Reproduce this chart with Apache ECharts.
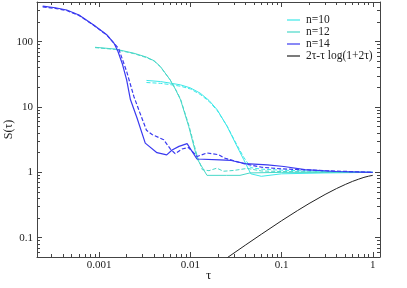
<!DOCTYPE html>
<html><head><meta charset="utf-8">
<script src="https://cdn.jsdelivr.net/npm/echarts@6/dist/echarts.min.js"></script>
<style>html,body{margin:0;padding:0;background:#fff}#c{width:407px;height:288px}</style>
</head><body><div id="c"></div>
<script>
// ---- data (tau, S) ----
const xTickLabels = ['0.001', '0.01', '0.1', '1'];
const yTickLabels = ['0.1', '1', '10', '100'];
const legendNames = ['n=10', 'n=12', 'n=14', '2\u03c4-\u03c4 log(1+2\u03c4)'];

const n10Solid = [[0.0033,25.5],[0.0047,24.5],[0.006,23.2],[0.0078,21.8],[0.01,19.6],[0.0128,16.3],[0.016,12.6],[0.0197,9.06],[0.0253,5.04],[0.0325,2.49],[0.0385,1.56],[0.046,0.95],[0.06,0.87],[0.1,0.95],[0.3,0.98],[1,1.0]];
const n10Dashed = [[0.0033,23.7],[0.0047,23.0],[0.006,22.0],[0.0078,20.8],[0.01,18.9],[0.0128,15.6],[0.016,12.2],[0.0197,8.8],[0.0253,5.1],[0.0325,2.6],[0.0385,1.7],[0.046,1.18],[0.06,1.12],[0.1,1.08],[0.3,1.03],[1,1.0]];
const n12Solid = [[0.0009,82],[0.0015,77],[0.0024,66.5],[0.0033,58],[0.004,51],[0.0047,41.5],[0.006,26],[0.0068,19],[0.0078,12.9],[0.0096,5.0],[0.0119,1.6],[0.0152,0.9],[0.025,0.9],[0.035,0.9],[0.045,0.98],[0.1,1.0],[1,1.0]];
const n12Dashed = [[0.0009,81],[0.0015,76],[0.0024,65.5],[0.0033,57],[0.004,50.5],[0.0047,41],[0.006,26],[0.0068,19.3],[0.0078,13.2],[0.0096,5.3],[0.0119,1.75],[0.0135,1.1],[0.016,1.06],[0.0195,1.16],[0.023,1.04],[0.03,1.07],[0.042,1.15],[0.06,1.05],[0.1,1.03],[1,1.0]];
const n14Solid = [[0.00024,350],[0.00033,330],[0.00044,305],[0.0006,255],[0.00087,180],[0.00122,126],[0.00145,95],[0.0016,72],[0.0018,45],[0.002,26],[0.0022,13],[0.0026,6.8],[0.0032,2.8],[0.0043,2.0],[0.0055,1.85],[0.0063,2.2],[0.0075,2.5],[0.0092,2.75],[0.0118,1.6],[0.021,1.55],[0.028,1.52],[0.04,1.36],[0.07,1.3],[0.106,1.23],[0.18,1.1],[0.4,1.03],[1,1.0]];
const n14Dashed = [[0.00024,340],[0.00033,322],[0.00044,300],[0.0006,252],[0.00087,178],[0.00122,125],[0.00145,95],[0.00163,79],[0.002,35],[0.0024,14.5],[0.0028,8.1],[0.0033,4.4],[0.0038,3.8],[0.0051,3.15],[0.006,2.3],[0.0068,1.93],[0.0081,2.28],[0.0095,2.4],[0.0119,1.75],[0.0152,1.98],[0.0205,1.86],[0.0234,1.66],[0.0385,1.36],[0.06,1.2],[0.1,1.13],[0.3,1.06],[1,1.0]];
const refCurve = [[0.025,0.0488],[0.04,0.0769],[0.06,0.113],[0.1,0.182],[0.15,0.261],[0.2,0.333],[0.3,0.459],[0.4,0.565],[0.5,0.653],[0.6,0.728],[0.7,0.787],[0.8,0.838],[0.9,0.874],[1,0.901]];

const X_MIN = 0.000208, X_MAX = 1.2, Y_MIN = 0.0507, Y_MAX = 404;
const FONT = 'Liberation Serif';
const AX = '#444';
const C10 = '#3ce8e8', C12 = '#48d8c8', C14 = '#3a3af0';

function fmt(labels) {
  return function (v) {
    for (const l of labels) { if (Math.abs(Math.log10(v) - Math.log10(Number(l))) < 1e-6) return l; }
    return '';
  };
}
function axis(kind, pos, showLabel, labels) {
  return {
    type: 'log', logBase: 10, position: pos,
    min: kind === 'x' ? X_MIN : Y_MIN, max: kind === 'x' ? X_MAX : Y_MAX,
    axisLine: {show: true, onZero: false, lineStyle: {color: AX, width: 1}},
    axisTick: {show: true, inside: true, length: 5, lineStyle: {color: AX, width: 1}},
    minorTick: {show: true, splitNumber: 9, length: 3, lineStyle: {color: AX, width: 1}},
    splitLine: {show: false}, minorSplitLine: {show: false},
    axisLabel: {show: showLabel, formatter: fmt(labels), margin: kind === 'x' ? 3 : 4,
      fontFamily: FONT, fontSize: 11, color: '#222', showMinLabel: false, showMaxLabel: false}
  };
}
const xa = axis('x', 'bottom', true, xTickLabels);
xa.name = '\u03c4'; xa.nameLocation = 'middle'; xa.nameGap = 12; xa.nameMoveOverlap = false;
xa.nameTextStyle = {fontFamily: FONT, fontSize: 13, color: '#222'};
const ya = axis('y', 'left', true, yTickLabels);
ya.name = 'S(\u03c4)'; ya.nameLocation = 'middle'; ya.nameGap = 22; ya.nameMoveOverlap = false;
ya.nameTextStyle = {fontFamily: FONT, fontSize: 12, color: '#222'};

function line(name, data, color, dashed, width) {
  return {type: 'line', name: name, data: data, xAxisIndex: 0, yAxisIndex: 0,
    symbol: 'none', showSymbol: false, smooth: false, animation: false,
    lineStyle: {color: color, width: width, type: dashed ? [4, 2] : 'solid'},
    itemStyle: {color: color}};
}

const chart = echarts.init(document.getElementById('c'), null, {renderer: 'canvas'});
chart.setOption({
  animation: false,
  backgroundColor: '#fff',
  grid: {left: 37, right: 27, top: 2, bottom: 31, containLabel: false, outerBoundsMode: 'none'},
  xAxis: [xa, axis('x', 'top', false, xTickLabels)],
  yAxis: [ya, axis('y', 'right', false, yTickLabels)],
  legend: {
    left: 282, top: 9, orient: 'vertical', itemWidth: 13, itemHeight: 11, itemGap: 0,
    icon: 'path://M0,0H13V1.2H0Z', symbolKeepAspect: true,
    data: legendNames,
    textStyle: {fontFamily: FONT, fontSize: 11.5, color: '#222', lineHeight: 11, padding: [0,0,0,1]}
  },
  series: [
    line(legendNames[0], n10Solid, C10, false, 1),
    line(legendNames[0], n10Dashed, C10, true, 1),
    line(legendNames[1], n12Solid, C12, false, 1),
    line(legendNames[1], n12Dashed, C12, true, 1),
    line(legendNames[2], n14Solid, C14, false, 1.2),
    line(legendNames[2], n14Dashed, C14, true, 1.2),
    line(legendNames[3], refCurve, '#222', false, 1)
  ]
});
</script></body></html>
